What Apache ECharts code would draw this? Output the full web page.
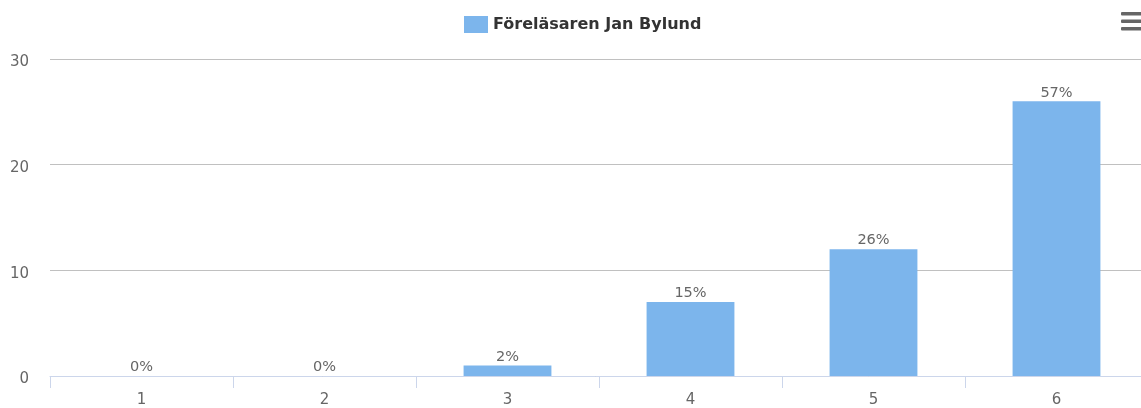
<!DOCTYPE html>
<html><head><meta charset="utf-8">
<script src="https://cdn.jsdelivr.net/npm/echarts@6/dist/echarts.min.js"></script>
<style>html,body{margin:0;padding:0;background:#fff}#c{width:1141px;height:408px}</style>
</head><body><div id="c"></div>
<script>
const categories = ['1','2','3','4','5','6'];
const counts = [0,0,1,7,12,26];
const percentLabels = ['0%','0%','2%','15%','26%','57%'];
const seriesName = 'Föreläsaren Jan Bylund';
const yTicks = [0,10,20,30];

const font = '"DejaVu Sans", sans-serif';
const chart = echarts.init(document.getElementById('c'));
chart.setOption({
  animation:false,
  textStyle:{fontFamily:font},
  legend:{
    top:11, left:459,
    itemWidth:24, itemHeight:17, itemGap:7,
    icon:'rect',
    textStyle:{fontFamily:font,fontSize:16,fontWeight:'bold',color:'#333'},
    data:[seriesName]
  },
  grid:{left:50,width:1098,top:59,bottom:32,containLabel:false,outerBoundsMode:'none'},
  xAxis:{
    type:'category', data:categories,
    axisLine:{lineStyle:{color:'#ccd6eb'}},
    axisTick:{show:true,length:12,lineStyle:{color:'#ccd6eb'},alignWithLabel:false},
    axisLabel:{color:'#666',fontSize:15,fontFamily:font,margin:17}
  },
  yAxis:{
    type:'value', min:yTicks[0], max:yTicks[yTicks.length-1], interval:10,
    axisLine:{show:false}, axisTick:{show:false},
    splitLine:{lineStyle:{color:'#c0c0c0'}},
    axisLabel:{color:'#666',fontSize:15,fontFamily:font,margin:21,
      formatter:v=>'{a|'+v+'}',
      rich:{a:{color:'#666',fontSize:15,fontFamily:font,padding:[7,0,0,0]}}}
  },
  series:[{
    name:seriesName, type:'bar', data:counts,
    barWidth:'48%',
    itemStyle:{color:'#7cb5ec'},
    label:{show:true,position:'top',distance:1,color:'#666',fontSize:14.5,fontFamily:font,
      formatter:p=>percentLabels[p.dataIndex]}
  }],
  graphic:[
    {type:'rect',shape:{x:1121,y:12,width:21,height:3.5,r:1},style:{fill:'#666'}},
    {type:'rect',shape:{x:1121,y:19.5,width:21,height:3.5,r:1},style:{fill:'#666'}},
    {type:'rect',shape:{x:1121,y:27,width:21,height:3.5,r:1},style:{fill:'#666'}}
  ]
});
</script></body></html>
